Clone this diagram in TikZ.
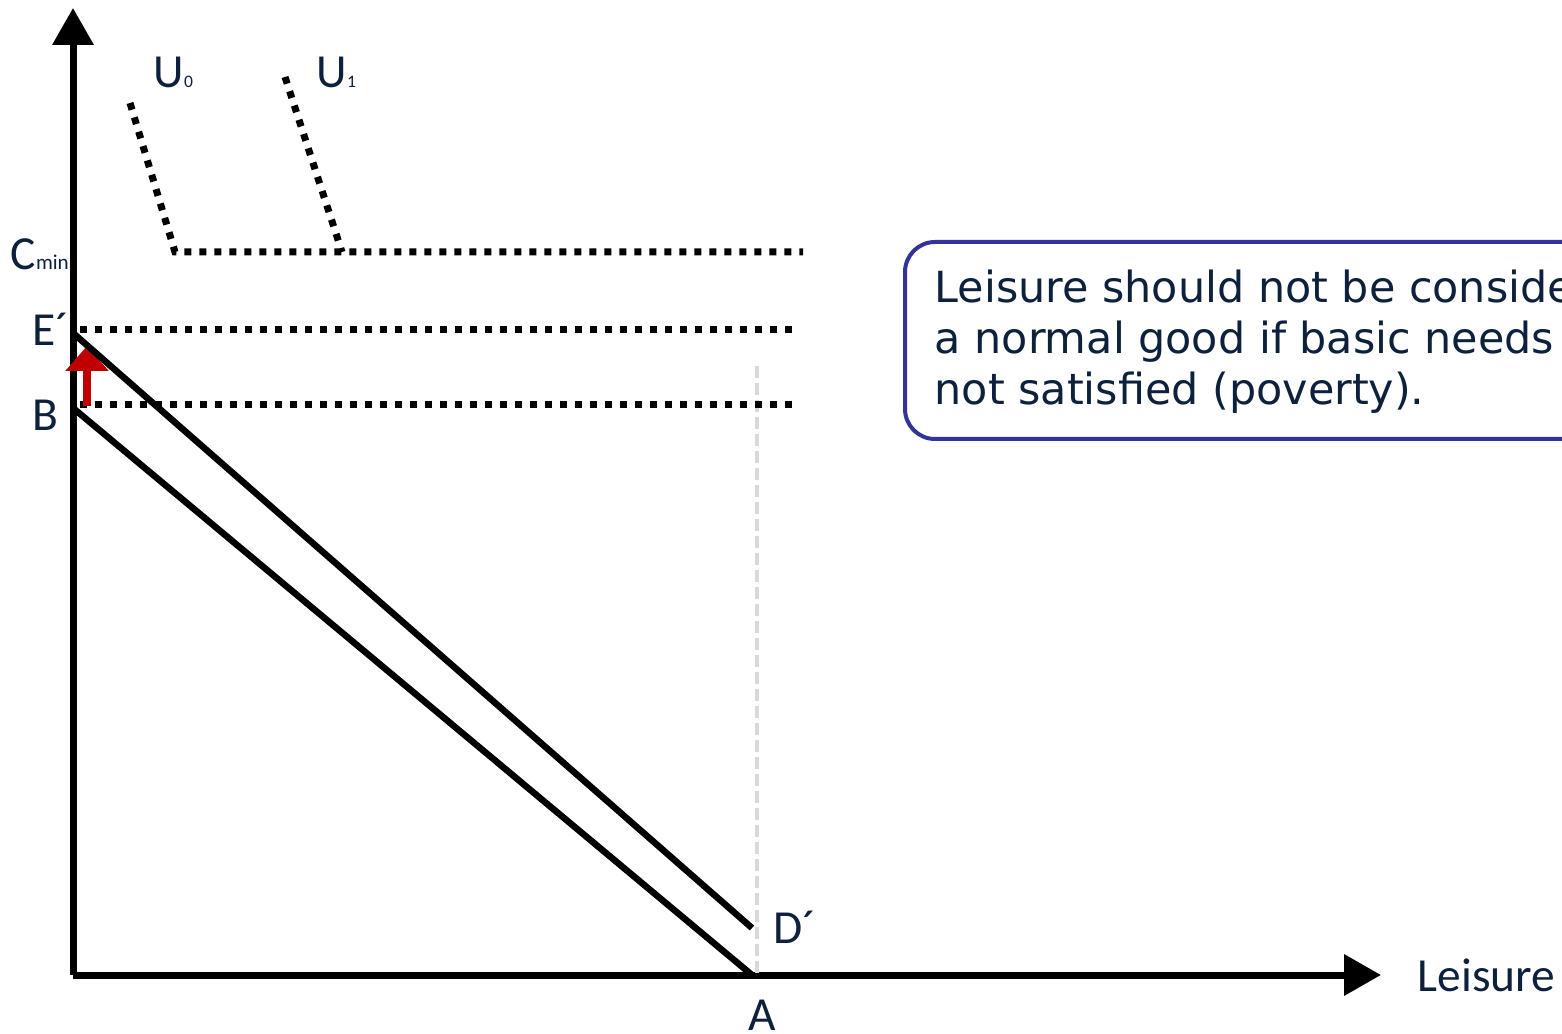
\documentclass[tikz,border=0pt]{standalone}
\usepackage{fontspec}
\setmainfont{Carlito}
\newfontfamily\notefont{DejaVu Sans}
\usetikzlibrary{positioning, calc, arrows.meta}
\definecolor{labelnavy}{RGB}{13,33,61}
\definecolor{noteblue}{RGB}{51,51,153}
\definecolor{shiftred}{RGB}{192,0,0}
\definecolor{guidegray}{RGB}{217,217,217}
\tikzset{
  axis/.style={line width=0.07cm, -{Triangle[width=0.40cm,length=0.37cm]}},
  budget/.style={line width=0.065cm},
  dotline/.style={line width=0.07cm, dash pattern=on 0.07cm off 0.08cm},
  lbl/.style={text=labelnavy, font=\fontsize{13.5}{16}\selectfont, inner sep=0pt, anchor=base west},
}
\newcommand{\tinysub}[1]{{\fontsize{5}{6}\selectfont #1}}

\begin{document}
\begin{tikzpicture}
    \useasboundingbox (-0.73,-0.58) rectangle (14.89,9.75);

    % Axes
    \coordinate (O) at (0,0);
    \coordinate (Ytop) at (0,9.67);
    \coordinate (Xend) at (13.08,0);
    \draw[axis] (O) -- (Ytop);
    \draw[axis] (O) -- (Xend);
    \node[lbl] (leisure) at (13.44,-0.16) {Leisure};

    % Coordinates
    \coordinate (B) at (0,5.67);
    \coordinate (E) at (0,6.42);
    \coordinate (A) at (6.79,0);
    \coordinate (D) at (6.79,0.47);

    % Grey guide at A
    \coordinate (Gbot) at (6.84,0.02);
    \coordinate (Gtop) at (6.84,6.10);
    \draw[guidegray, line width=0.04cm, dash pattern=on 0.12cm off 0.05cm] (Gbot) -- (Gtop);

    % Indifference curves
    \coordinate (U0top) at (0.57,8.72);
    \coordinate (U0kink) at (1.02,7.23);
    \coordinate (Cminend) at (7.30,7.23);
    \coordinate (U1top) at (2.12,8.98);
    \coordinate (U1kink) at (2.69,7.23);
    \draw[dotline] (U0top) -- (U0kink) -- (Cminend);
    \draw[dotline] (U1top) -- (U1kink);

    % Income levels
    \coordinate (Estart) at (0.07,6.45);
    \coordinate (Eend) at (7.24,6.45);
    \coordinate (Bstart) at (0.07,5.70);
    \coordinate (Bend) at (7.24,5.70);
    \draw[dotline] (Estart) -- (Eend);
    \draw[dotline] (Bstart) -- (Bend);

    % Shift
    \coordinate (Sbot) at (0.14,5.69);
    \coordinate (Stop) at (0.14,6.29);
    \draw[shiftred, line width=0.085cm, -{Triangle[width=0.42cm,length=0.25cm]}] (Sbot) -- (Stop);

    % Budget lines
    \draw[budget] (B) -- (A);
    \draw[budget] (E) -- (D);

    % Labels
    \node[lbl] (u0) at (0.80,8.87) {U\tinysub{0}};
    \node[lbl] (u1) at (2.43,8.87) {U\tinysub{1}};
    \node[lbl] (cmin) at (-0.63,7.05) {C{\fontsize{6}{7}\selectfont min}};
    \node[lbl] (elab) at (-0.41,6.29) {E´};
    \node[lbl] (blab) at (-0.41,5.44) {B};
    \node[lbl] (dlab) at (7.00,0.32) {D´};
    \node[lbl] (alab) at (6.75,-0.55) {A};

    % Note
    \node[draw=noteblue, line width=0.04cm, rounded corners=0.3cm, anchor=north west,
          minimum width=7.2cm, minimum height=1.97cm] (note) at (8.30,7.35) {};
    \node[text=labelnavy, font=\notefont\fontsize{12.2}{14.5}\selectfont, align=left,
          inner sep=0pt, anchor=north west] (notetext) at (8.61,7.06)
          {Leisure should not be considered as\\a normal good if basic needs are\\not satisfied (poverty).};
\end{tikzpicture}
\end{document}
